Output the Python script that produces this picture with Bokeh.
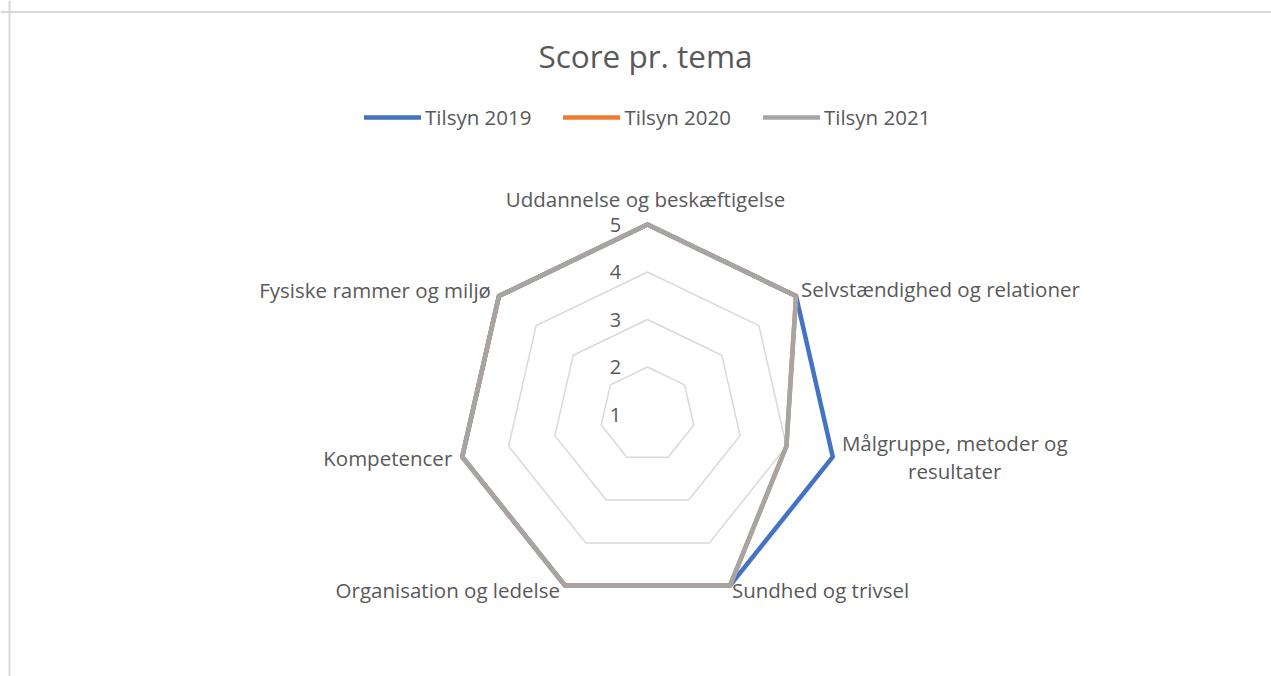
import math
from bokeh.plotting import figure
from bokeh.models import Range1d, Legend, LegendItem, Span, ColumnDataSource
from bokeh.core.properties import value
from bokeh.embed import file_html
from bokeh.resources import INLINE

# ---------------- data ----------------
categories = [
    "Uddannelse og beskæftigelse",
    "Selvstændighed og relationer",
    "Målgruppe, metoder og\nresultater",
    "Sundhed og trivsel",
    "Organisation og ledelse",
    "Kompetencer",
    "Fysiske rammer og miljø",
]
series_names = ["Tilsyn 2019", "Tilsyn 2020", "Tilsyn 2021"]
tilsyn_2019 = [5, 5, 5, 5, 5, 5, 5]
tilsyn_2020 = [5, 5, 4, 5, 5, 5, 5]
tilsyn_2021 = [5, 5, 4, 5, 5, 5, 5]
ring_values = [1, 2, 3, 4, 5]
ring_labels = ["1", "2", "3", "4", "5"]
title_text = "Score pr. tema"

# ---------------- styles / layout ----------------
W, H = 1271, 676
CX, CY, R = 647, 414, 190
VMIN, VMAX = 1, 5
FONT = "Open Sans"
TXT = "#595959"
GRID = "#D9D9D9"
colors = ["#4472C4", "#ED7D31", "#A5A5A5"]
N = len(categories)

def radius(v):
    return R * (v - VMIN) / (VMAX - VMIN)

def angle(k):
    return math.pi / 2 - 2 * math.pi * k / N

def pt(k, v):
    a = angle(k)
    r = radius(v)
    return CX + r * math.cos(a), CY - r * math.sin(a)

p = figure(width=W, height=H, output_backend="svg", toolbar_location=None,
           x_range=Range1d(0, W), y_range=Range1d(H, 0),
           min_border=0, outline_line_color=None)
p.axis.visible = False
p.grid.visible = False
p.background_fill_color = "white"
p.border_fill_color = "white"

# chart border (left / top visible)
p.add_layout(Span(location=9, dimension="height", line_color=GRID, line_width=2))
p.add_layout(Span(location=11.5, dimension="width", line_color=GRID, line_width=2))

# rings
for v in ring_values[1:]:
    xs = [pt(k, v)[0] for k in range(N)] + [pt(0, v)[0]]
    ys = [pt(k, v)[1] for k in range(N)] + [pt(0, v)[1]]
    p.line(xs, ys, line_color=GRID, line_width=1.5)

# ring labels
p.text(x=[CX - 32] * len(ring_values), y=[CY - radius(v) for v in ring_values],
       text=ring_labels, text_font=value(FONT), text_font_size="20px",
       text_color=TXT, text_align="center", text_baseline="middle")

# series
renderers = []
for name, vals, col in zip(series_names, [tilsyn_2019, tilsyn_2020, tilsyn_2021], colors):
    xs = [pt(k, v)[0] for k, v in enumerate(vals)] + [pt(0, vals[0])[0]]
    ys = [pt(k, v)[1] for k, v in enumerate(vals)] + [pt(0, vals[0])[1]]
    r = p.line(xs, ys, line_color=col, line_width=4.5, line_join="round", line_cap="round")
    renderers.append(r)

# category labels
offsets = [(-2, -26), (5, -7), (122, 0), (2, 4), (-5, 4), (-10, 1), (-8, -6)]
aligns = ["center", "left", "center", "left", "right", "right", "right"]
lx, ly = [], []
for k in range(N):
    x, y = pt(k, VMAX)
    lx.append(x + offsets[k][0])
    ly.append(y + offsets[k][1])
src = ColumnDataSource(dict(x=lx, y=ly, t=categories, a=aligns))
p.text(x="x", y="y", text="t", text_align="a", source=src,
       text_font=value(FONT), text_font_size="20.5px", text_color=TXT,
       text_baseline="middle", text_line_height=1.0)

# title
p.text(x=[CX - 2], y=[55], text=[title_text], text_font=value(FONT),
       text_font_size="31.5px", text_color=TXT, text_align="center", text_baseline="middle")

legend = Legend(items=[LegendItem(label=n, renderers=[r]) for n, r in zip(series_names, renderers)],
                orientation="horizontal", location=(364, 545),
                glyph_width=57, glyph_height=20, label_standoff=4, spacing=32,
                padding=0, margin=0, border_line_color=None, background_fill_alpha=0,
                label_text_font=FONT, label_text_font_size="20.5px", label_text_color=TXT)
p.add_layout(legend, "center")

open("out.html", "w").write(file_html(p, INLINE))
